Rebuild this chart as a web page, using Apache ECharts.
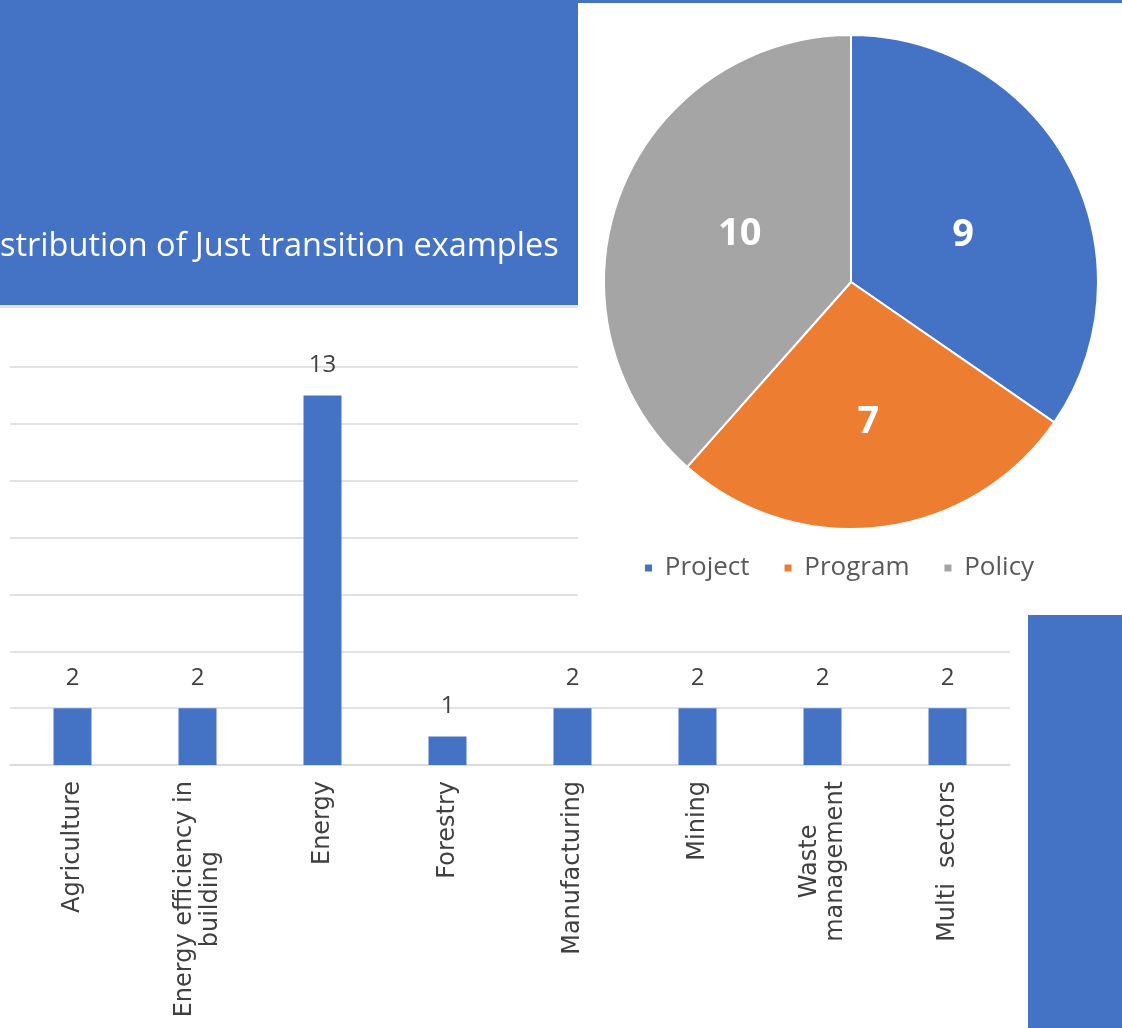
<!DOCTYPE html>
<html>
<head>
<meta charset="utf-8">
<script src="https://cdn.jsdelivr.net/npm/echarts@6/dist/echarts.min.js"></script>
<style>
html,body{margin:0;padding:0;background:#ffffff;}
#main{width:1122px;height:1028px;}
</style>
</head>
<body>
<div id="main"></div>
<script>
// Bar chart data (sector distribution)
const sectors = ["Agriculture", "Energy efficiency in\nbuilding", "Energy", "Forestry", "Manufacturing", "Mining", "Waste\nmanagement", "Multi  sectors"];
const sectorCounts = [2, 2, 13, 1, 2, 2, 2, 2];
// Pie chart data (type distribution)
const typeNames = ["Project", "Program", "Policy"];
const typeCounts = [9, 7, 10];
const typeColors = ["#4472C4", "#ED7D31", "#A5A5A5"];
const titleText = "stribution of Just transition examples";

const chart = echarts.init(document.getElementById('main'), null, {renderer: 'canvas'});

const pieLabelNudge = [[0, 12], [2, 15], [7, -3]];

const option = {
  backgroundColor: '#ffffff',
  animation: false,
  grid: {left: 10, right: 112, top: 367, bottom: 263, containLabel: false},
  xAxis: {
    type: 'category',
    data: sectors,
    axisTick: {show: false},
    axisLine: {lineStyle: {color: '#d9d9d9', width: 1.5}},
    axisLabel: {
      rotate: 90,
      margin: 16,
      interval: 0,
      color: '#404040',
      fontFamily: 'DejaVu Sans',
      fontSize: 24,
      lineHeight: 26,
      formatter: function (v) {
        return v.split('\n').map(function (s) { return '{c|' + s + '}'; }).join('\n');
      },
      rich: {c: {align: 'center', color: '#404040', fontFamily: 'DejaVu Sans', fontSize: 24, lineHeight: 26}}
    }
  },
  yAxis: {
    type: 'value',
    min: 0, max: 14, interval: 2,
    axisLabel: {show: false},
    axisLine: {show: false},
    axisTick: {show: false},
    splitLine: {lineStyle: {color: '#d9d9d9', width: 1.5}}
  },
  legend: {
    data: typeNames,
    left: 638,
    top: 550,
    icon: 'rect',
    itemWidth: 9,
    itemHeight: 9,
    itemGap: 33,
    z: 12,
    formatter: ' {name}',
    textStyle: {color: '#595959', fontSize: 26, fontFamily: 'Open Sans'}
  },
  graphic: [
    {type: 'rect', z: 3, shape: {x: 0, y: 0, width: 578, height: 305}, style: {fill: '#4472C4'}},
    {type: 'rect', z: 3, shape: {x: 0, y: 305, width: 578, height: 3}, style: {fill: '#e3e3e3'}},
    {type: 'rect', z: 3, shape: {x: 578, y: 0, width: 544, height: 3}, style: {fill: '#4472C4'}},
    {type: 'rect', z: 3, shape: {x: 578, y: 3, width: 544, height: 609}, style: {fill: '#ffffff'}},
    {type: 'rect', z: 3, shape: {x: 1028, y: 615, width: 94, height: 413}, style: {fill: '#4472C4'}},
    {type: 'text', z: 4, left: 0, top: 230, style: {text: titleText, fill: '#ffffff', font: '32.5px "Open Sans"'}}
  ],
  series: [
    {
      type: 'bar',
      data: sectorCounts,
      barWidth: 38,
      itemStyle: {color: '#4472C4'},
      label: {show: true, position: 'top', distance: 18, color: '#404040', fontSize: 24, fontFamily: 'Open Sans'}
    },
    {
      type: 'pie',
      z: 10,
      center: [851, 282],
      radius: 247,
      startAngle: 90,
      clockwise: true,
      data: typeNames.map(function (n, i) {
        return {name: n, value: typeCounts[i], itemStyle: {color: typeColors[i]}, label: {offset: pieLabelNudge[i]}};
      }),
      itemStyle: {borderColor: '#ffffff', borderWidth: 2},
      label: {show: true, position: 'inside', color: '#ffffff', fontSize: 38, fontWeight: 'bold', fontFamily: 'Open Sans', formatter: '{c}'},
      labelLine: {show: false},
      emphasis: {disabled: true}
    }
  ]
};
chart.setOption(option);
</script>
</body>
</html>
